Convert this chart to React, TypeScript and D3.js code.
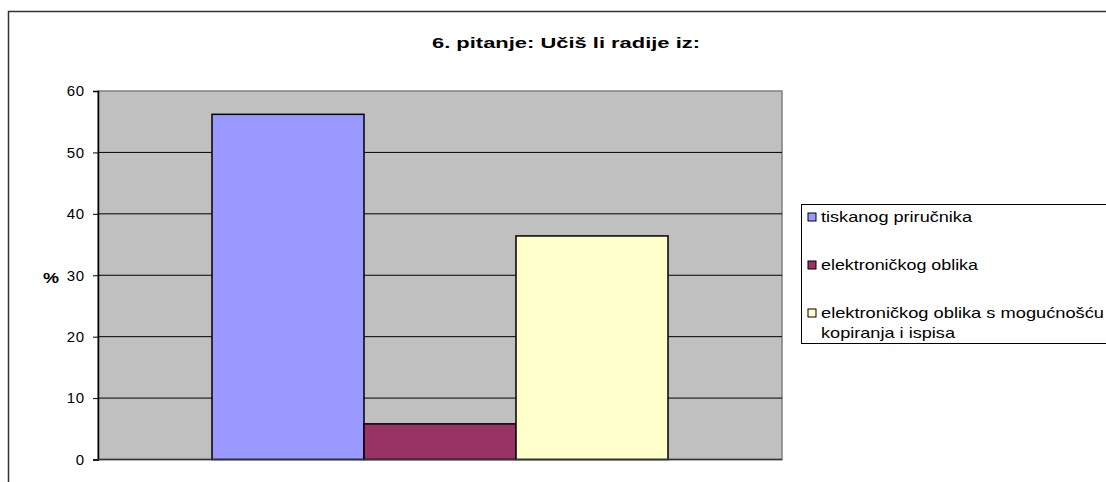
import React, { useRef, useEffect } from "react";
import * as d3 from "d3";

const title = "6. pitanje: Učiš li radije iz:";
const categories = ["6. pitanje"];
const seriesNames = [
  "tiskanog priručnika",
  "elektroničkog oblika",
  "elektroničkog oblika s mogućnošću kopiranja i ispisa",
];
const seriesValues = [56.2, 5.8, 36.4];
const seriesColors = ["#9999FF", "#993366", "#FFFFCC"];
const yTicks = [0, 10, 20, 30, 40, 50, 60];
const legendLines = [
  ["tiskanog priručnika"],
  ["elektroničkog oblika"],
  ["elektroničkog oblika s mogućnošću", "kopiranja i ispisa"],
];
// rendered widths of the legend lines (Excel stretches its text)
const legendWidths = [
  [151],
  [157],
  [283, 134],
];

const App = () => {
  const svgRef = useRef<SVGSVGElement>(null);
  const width = 1106;
  const height = 482;

  useEffect(() => {
    const svg = d3.select(svgRef.current);
    svg.selectAll("*").remove();
    const font = "Arial, 'Liberation Sans', sans-serif";

    const plot = { left: 98, right: 782, top: 91, bottom: 459.5 };

    // outer chart border
    svg
      .append("rect")
      .attr("x", 8.5)
      .attr("y", 11.5)
      .attr("width", 1120)
      .attr("height", 500)
      .attr("fill", "#fff")
      .attr("stroke", "#333")
      .attr("stroke-width", 1.5);

    svg
      .append("text")
      .attr("x", 432)
      .attr("y", 48)
      .attr("font-family", font)
      .attr("font-weight", "bold")
      .attr("font-size", 15)
      .attr("textLength", 268)
      .attr("lengthAdjust", "spacingAndGlyphs")
      .text(title);

    const y = d3.scaleLinear().domain([0, 60]).range([plot.bottom, plot.top]);
    const x0 = d3
      .scaleBand()
      .domain(categories)
      .range([plot.left, plot.right])
      .paddingInner(0)
      .paddingOuter(0.25);
    const x1 = d3
      .scaleBand()
      .domain(seriesNames)
      .range([0, x0.bandwidth()])
      .padding(0);

    svg
      .append("rect")
      .attr("x", plot.left)
      .attr("y", plot.top)
      .attr("width", plot.right - plot.left)
      .attr("height", plot.bottom - plot.top)
      .attr("fill", "#C0C0C0")
      .attr("stroke", "#808080")
      .attr("stroke-width", 1.5);

    // gridlines
    svg
      .append("g")
      .selectAll("line")
      .data(yTicks.filter((t) => t > 0 && t < 60))
      .join("line")
      .attr("x1", plot.left)
      .attr("x2", plot.right)
      .attr("y1", (d) => y(d))
      .attr("y2", (d) => y(d))
      .attr("stroke", "#000")
      .attr("stroke-width", 1);

    // bars
    svg
      .append("g")
      .selectAll("rect")
      .data(seriesValues)
      .join("rect")
      .attr("x", (_, i) => (x0(categories[0]) as number) + (x1(seriesNames[i]) as number))
      .attr("y", (d) => y(d))
      .attr("width", x1.bandwidth())
      .attr("height", (d) => plot.bottom - y(d))
      .attr("fill", (_, i) => seriesColors[i])
      .attr("stroke", "#000")
      .attr("stroke-width", 1.5);

    // y axis
    const yAxis = svg
      .append("g")
      .attr("transform", `translate(${plot.left}, 0)`)
      .call(d3.axisLeft(y).tickValues(yTicks).tickSize(5).tickPadding(8));
    yAxis.select(".domain").attr("stroke", "#000").attr("stroke-width", 1.5);
    yAxis.selectAll(".tick line").attr("stroke", "#000");
    yAxis
      .selectAll(".tick text")
      .attr("font-family", font)
      .attr("font-size", 15)
      .attr("letter-spacing", 0.8)
      .attr("fill", "#000");

    // bottom axis line
    svg
      .append("line")
      .attr("x1", plot.left)
      .attr("x2", plot.right)
      .attr("y1", plot.bottom)
      .attr("y2", plot.bottom)
      .attr("stroke", "#333")
      .attr("stroke-width", 1.5);

    svg
      .append("text")
      .attr("x", 43)
      .attr("y", 283)
      .attr("font-family", font)
      .attr("font-weight", "bold")
      .attr("font-size", 15)
      .attr("textLength", 16)
      .attr("lengthAdjust", "spacingAndGlyphs")
      .text("%");

    // legend
    const legend = svg.append("g");
    legend
      .append("rect")
      .attr("x", 801.5)
      .attr("y", 204.5)
      .attr("width", 340)
      .attr("height", 139)
      .attr("fill", "#fff")
      .attr("stroke", "#000")
      .attr("stroke-width", 1);
    const rowY = [217, 265, 313];
    legendLines.forEach((lines, i) => {
      legend
        .append("rect")
        .attr("x", 808)
        .attr("y", rowY[i] - 4)
        .attr("width", 8)
        .attr("height", 8)
        .attr("fill", seriesColors[i])
        .attr("stroke", "#000")
        .attr("stroke-width", 1);
      lines.forEach((ln, j) => {
        legend
          .append("text")
          .attr("x", 821)
          .attr("y", rowY[i] + 5 + j * 20)
          .attr("font-family", font)
          .attr("font-size", 15)
          .attr("textLength", legendWidths[i][j])
          .attr("lengthAdjust", "spacingAndGlyphs")
          .text(ln);
      });
    });
  }, []);

  return (
    <svg
      ref={svgRef}
      width={width}
      height={height}
      style={{ position: "absolute", left: 0, top: 0, background: "#fff" }}
    />
  );
};

export default App;
